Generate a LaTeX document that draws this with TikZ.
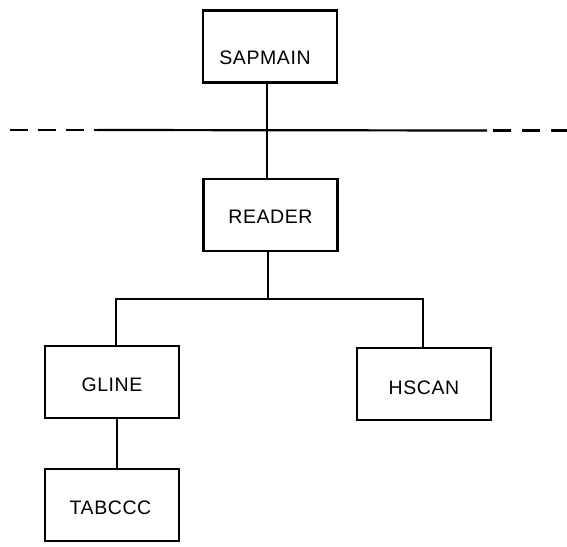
\documentclass[tikz,border=0pt]{standalone}
\usepackage{fontspec}
\setmainfont{Liberation Sans}
\newfontfamily\boxfont[LetterSpace=3]{Liberation Sans}
\usetikzlibrary{calc}
\begin{document}
\begin{tikzpicture}[x=1pt, y=-1pt,
  box/.style={draw, line width=2.5pt, minimum width=134pt, minimum height=72pt, inner sep=0pt},
  lbl/.style={font=\boxfont\fontsize{19.5}{22}\selectfont, inner sep=0pt, text height=13pt, text depth=0pt},
  link/.style={line width=2pt},
  sep/.style={line width=2.2pt}]
  \useasboundingbox (0,0) rectangle (567,546);

  % module boxes
  \node[box, label={[lbl, shift={(-5pt,-11pt)}]center:SAPMAIN}] (sap) at (270,46.5) {};
  \node[box, label={[lbl, shift={(0pt,-2pt)}]center:READER}] (reader) at (270.5,215) {};
  \node[box, label={[lbl, shift={(0pt,-2.5pt)}]center:GLINE}] (gline) at (112,382) {};
  \node[box, label={[lbl, shift={(0pt,-3.5pt)}]center:HSCAN}] (hscan) at (424,384) {};
  \node[box, label={[lbl, shift={(-1.5pt,-2.5pt)}]center:TABCCC}] (tab) at (112,505) {};

  % boundary line crossing the top link
  \coordinate (s0) at (10,130);
  \coordinate (s1) at (97,130);
  \coordinate (s2) at (487,130.5);
  \coordinate (s3) at (567,130.5);
  \draw[sep, dash pattern=on 18pt off 10pt] (s0) -- (s1);
  \draw[sep] (s1) -- (s2);
  \draw[sep, dash pattern=on 18pt off 11pt] ($(s2)+(6,0)$) -- (s3);

  % call links
  \draw[link] (sap.south -| 267,0) -- (reader.north -| 267,0);
  \coordinate (bus) at (268,299);
  \draw[link] (reader.south -| bus) -- (bus);
  \draw[link] (bus) -| ([xshift=4pt]gline.north);
  \draw[link] (bus) -| ([xshift=-1pt]hscan.north);
  \draw[link] ([xshift=5pt]gline.south) -- ([xshift=5pt]tab.north);
\end{tikzpicture}
\end{document}
